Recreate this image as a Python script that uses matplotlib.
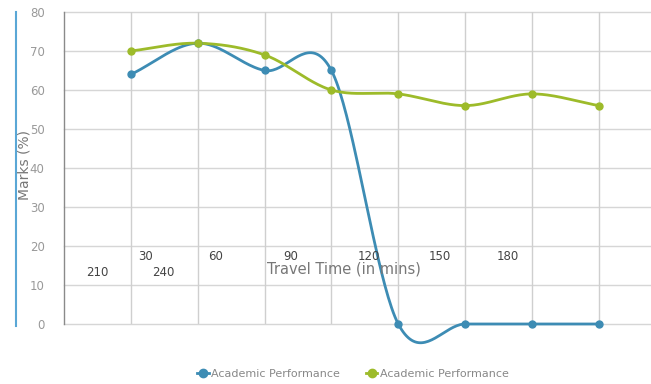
import numpy as np
import matplotlib
matplotlib.use("Agg")
import matplotlib.pyplot as plt
from matplotlib.lines import Line2D

# data
x_pos = [1, 2, 3, 4, 5, 6, 7, 8]
blue_marks = [64, 72, 65, 65, 0, 0, 0, 0]
green_marks = [70, 72, 69, 60, 59, 56, 59, 56]
series_names = ["Academic Performance", "Academic Performance"]
time_labels = ["30", "60", "90", "120", "150", "180", "210", "240"]

BLUE = "#3d8cb4"
GREEN = "#9dbb2a"
W, H = 651, 384


def catmull_rom(xs, ys, steps=40):
    # smooth curve through the points, same look as the web chart's tension
    xs = np.asarray(xs, float)
    ys = np.asarray(ys, float)
    n = len(xs)
    m = np.zeros(n)
    for i in range(n):
        if i == 0:
            m[i] = ys[1] - ys[0]
        elif i == n - 1:
            m[i] = ys[-1] - ys[-2]
        else:
            m[i] = (ys[i + 1] - ys[i - 1]) / 2.0
    out_x, out_y = [], []
    for i in range(n - 1):
        t = np.linspace(0, 1, steps, endpoint=(i == n - 2))
        h00 = 2 * t**3 - 3 * t**2 + 1
        h10 = t**3 - 2 * t**2 + t
        h01 = -2 * t**3 + 3 * t**2
        h11 = t**3 - t**2
        out_x.append(xs[i] + t * (xs[i + 1] - xs[i]))
        out_y.append(h00 * ys[i] + h10 * m[i] + h01 * ys[i + 1] + h11 * m[i + 1])
    return np.concatenate(out_x), np.concatenate(out_y)


fig = plt.figure(figsize=(W / 100, H / 100), dpi=100)
ax = fig.add_axes([64 / W, 1 - 324 / H, (W - 64) / W, (324 - 12) / H])
ax.set_xlim(0, 8.78)
ax.set_ylim(0, 80)

for y in range(0, 90, 10):
    ax.axhline(y, color="#d6d6d6", lw=1, zorder=1, clip_on=False)
for x in range(1, 9):
    ax.axvline(x, color="#cfcfcf", lw=1, zorder=1)

for spine in ax.spines.values():
    spine.set_visible(False)
ax.plot([0, 0], [0, 80], color="#8a8a8a", lw=1, zorder=2, clip_on=False)

ax.set_xticks([])
ax.set_yticks(range(0, 90, 10))
ax.tick_params(axis="y", length=0, pad=14, labelsize=8.5, labelcolor="#999999")

for ys, col in [(blue_marks, BLUE), (green_marks, GREEN)]:
    sx, sy = catmull_rom(x_pos, ys)
    ax.plot(sx, sy, color=col, lw=2, zorder=3, clip_on=False)
    ax.plot(x_pos, ys, "o", color=col, ms=5, zorder=4, clip_on=False)

# x labels wrap oddly in the original, two rows inside the plot
row1 = [(146, 257), (216, 256), (291, 256), (369, 256), (440, 256), (508, 256)]
row2 = [(97, 273), (163, 273)]
for lab, (px, py) in zip(time_labels, row1 + row2):
    fig.text(px / W, 1 - py / H, lab, ha="center", va="center",
             fontsize=8.5, color="#444444")
fig.text(344 / W, 1 - 269 / H, "Travel Time (in mins)", ha="center",
         va="center", fontsize=10.5, color="#777777")

fig.text(24 / W, 1 - 165 / H, "Marks (%)", rotation=90, ha="center",
         va="center", fontsize=10, color="#777777")
fig.add_artist(Line2D([15.5 / W, 15.5 / W], [1 - 12 / H, 1 - 326 / H],
                      color="#5aa7d6", lw=1.5))

handles = [Line2D([], [], marker="o", ls="-", lw=2, color=c, ms=6)
           for c in (BLUE, GREEN)]
fig.legend(handles, series_names, loc="center", ncol=2,
           bbox_to_anchor=(353 / W, 1 - 374 / H), frameon=False,
           fontsize=8, labelcolor="#888888", handletextpad=0.2,
           columnspacing=2.4, handlelength=1.0)

fig.savefig("out.png", dpi=100)
